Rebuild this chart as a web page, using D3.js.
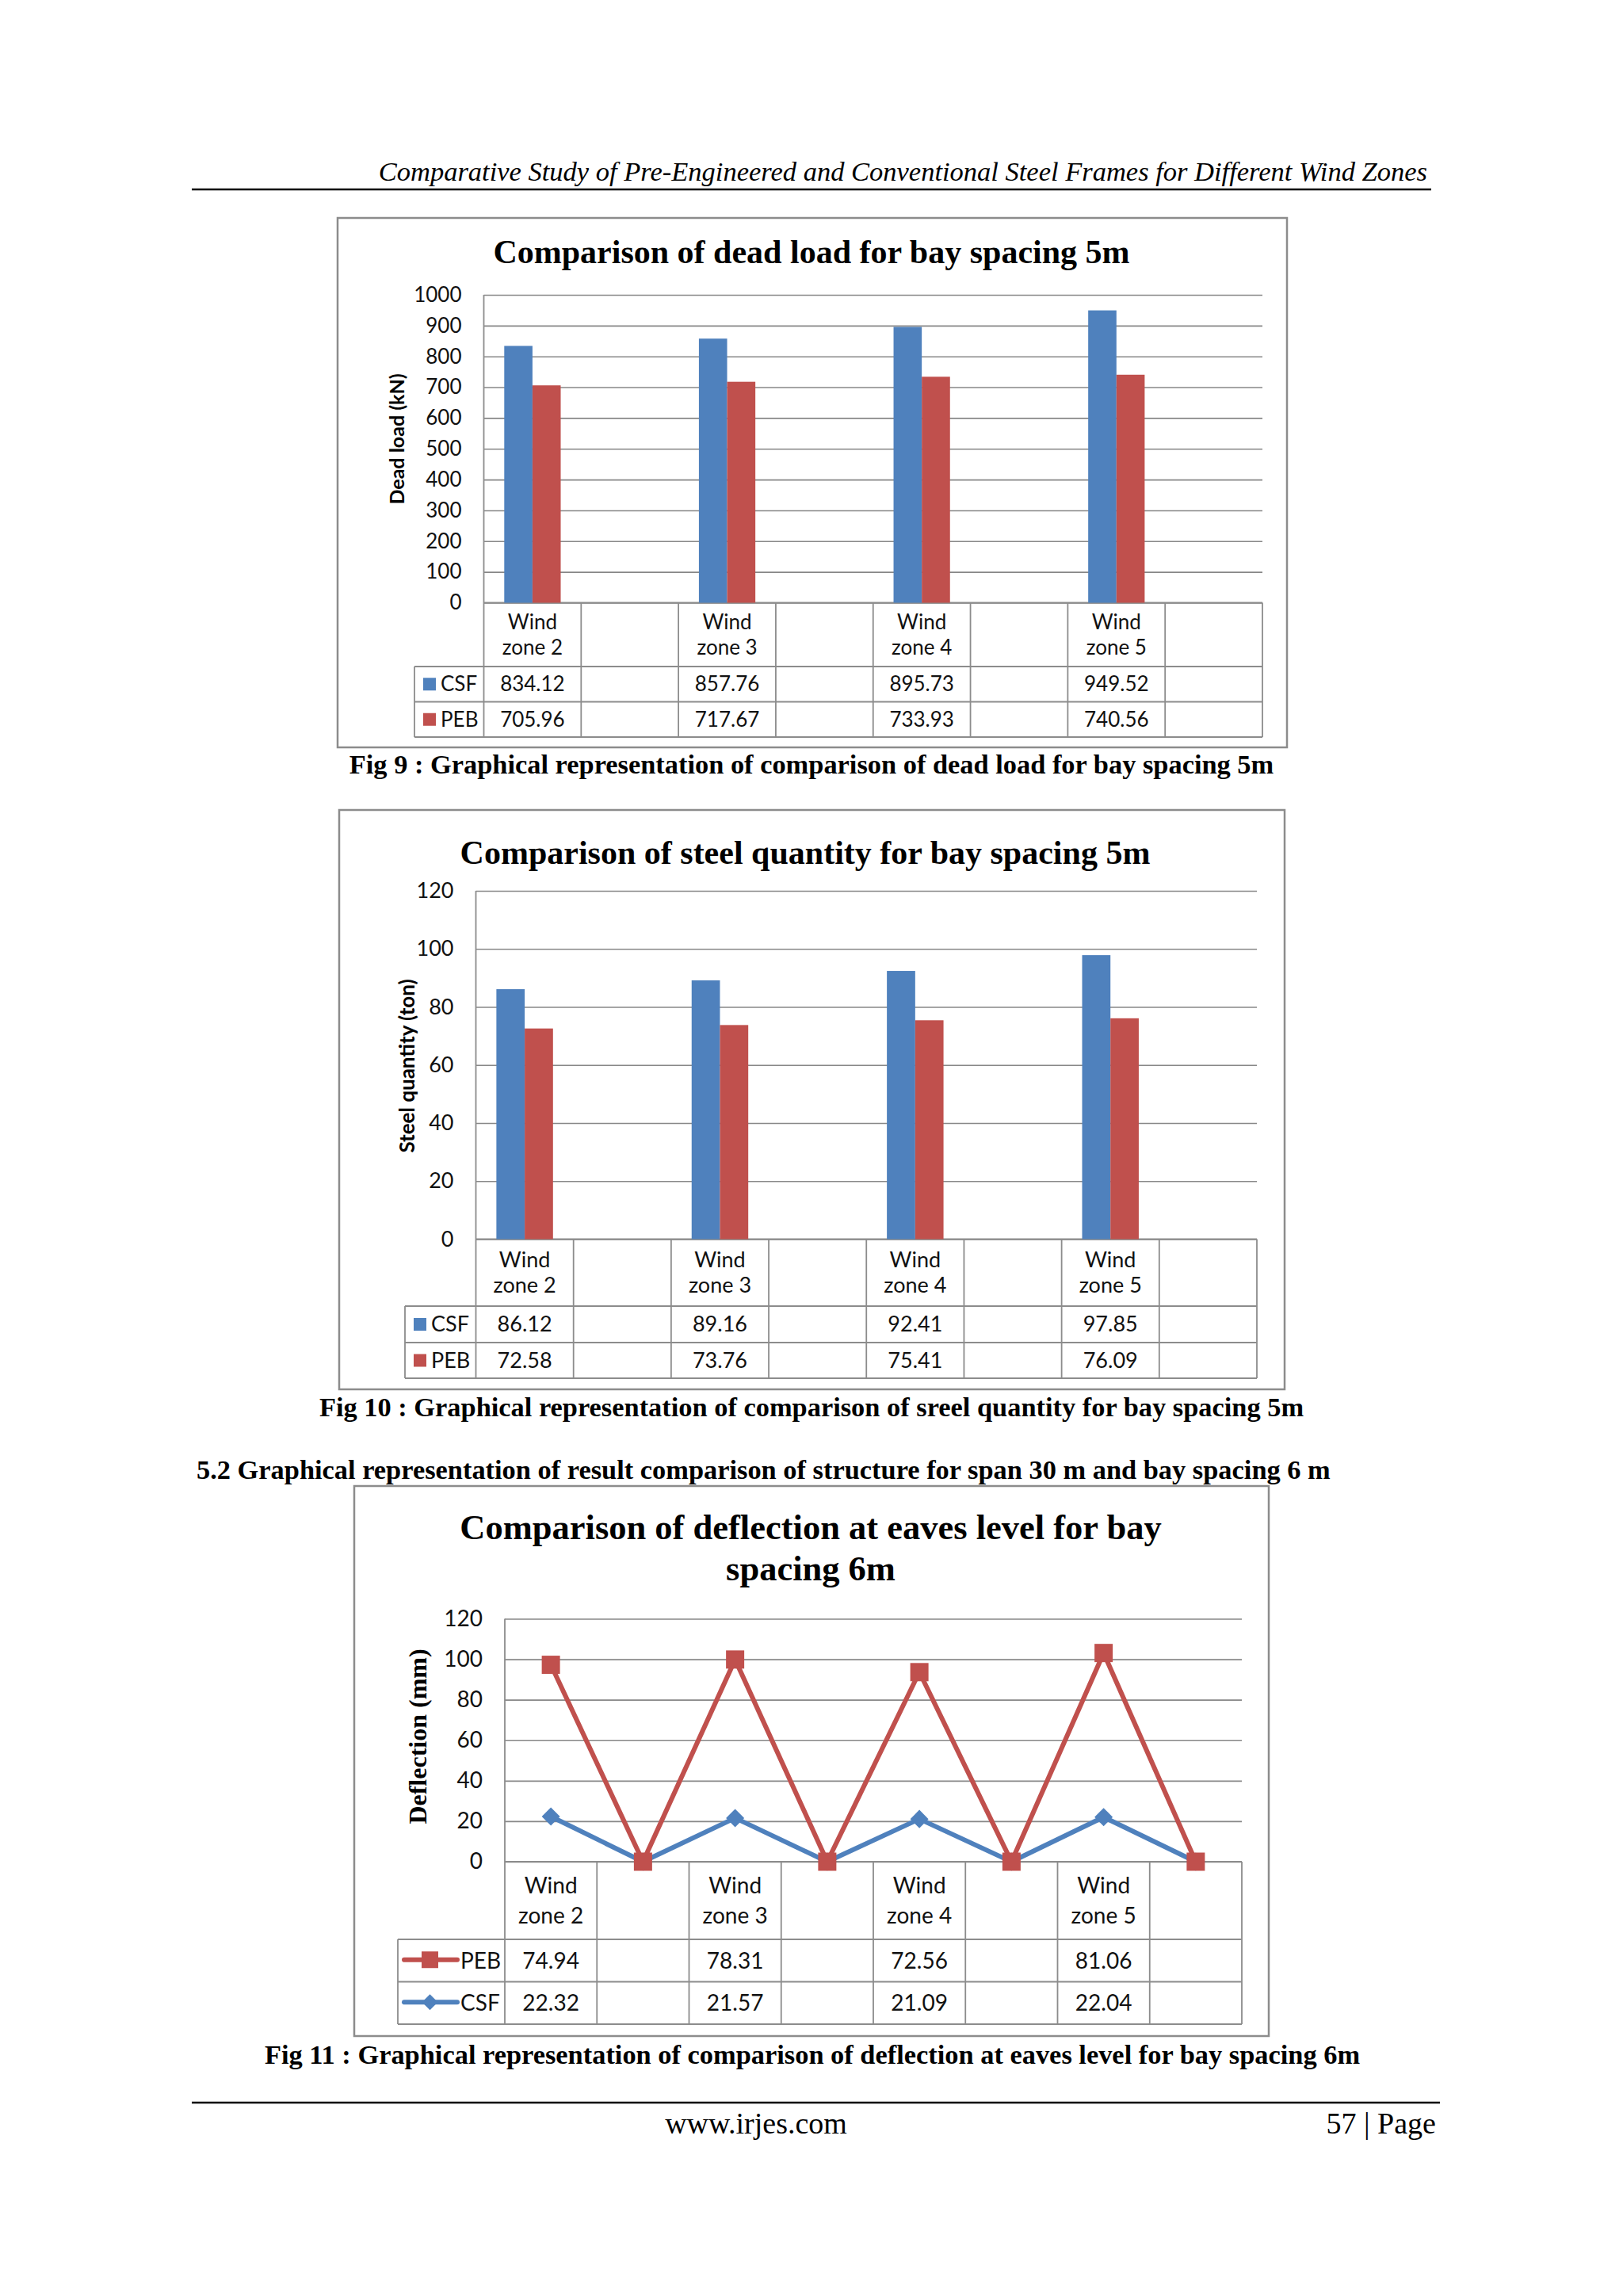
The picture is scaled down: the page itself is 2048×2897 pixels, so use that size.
<!DOCTYPE html>
<html><head><meta charset="utf-8">
<script src="https://cdn.jsdelivr.net/npm/d3@7/dist/d3.min.js"></script>
<style>html,body{margin:0;padding:0;background:#fff;} svg{display:block}</style>
</head><body>
<svg id="page" width="2048" height="2897"></svg>
<script>
// ---------- DATA ----------
const categories = ["Wind zone 2", "", "Wind zone 3", "", "Wind zone 4", "", "Wind zone 5", ""];
const deadCSF = [834.12, null, 857.76, null, 895.73, null, 949.52, null];
const deadPEB = [705.96, null, 717.67, null, 733.93, null, 740.56, null];
const deadTicks = [0, 100, 200, 300, 400, 500, 600, 700, 800, 900, 1000];
const steelCSF = [86.12, null, 89.16, null, 92.41, null, 97.85, null];
const steelPEB = [72.58, null, 73.76, null, 75.41, null, 76.09, null];
const steelTicks = [0, 20, 40, 60, 80, 100, 120];
const deflPEB = [74.94, null, 78.31, null, 72.56, null, 81.06, null];
const deflCSF = [22.32, null, 21.57, null, 21.09, null, 22.04, null];
const deflTicks = [0, 20, 40, 60, 80, 100, 120];

// ---------- STYLE ----------
const BLUE = "#4F81BD", RED = "#C0504D", GRID = "#878787", BORDER = "#8c8c8c";
const serif = "'Liberation Serif','Times New Roman',serif";
const sans = "Lato,'Open Sans',sans-serif";
const fmt = d3.format(".2f");

const svg = d3.select("#page");

function txt(g, x, y, s, o) {
  const t = g.append("text").attr("x", x).attr("y", y).text(s)
    .style("font-family", o.family || serif)
    .style("font-size", (o.size || 30) + "px")
    .style("font-weight", o.weight || "normal")
    .style("font-style", o.style || "normal")
    .attr("fill", o.fill || "#000")
    .attr("text-anchor", o.anchor || "start");
  if (o.dy) t.attr("dy", o.dy);
  return t;
}

// ---------- PAGE ----------
txt(svg, 1801, 228, "Comparative Study of Pre-Engineered and Conventional Steel Frames for Different Wind Zones",
  {size: 34.5, style: "italic", anchor: "end"});
svg.append("line").attr("x1", 242).attr("x2", 1806).attr("y1", 239).attr("y2", 239)
  .attr("stroke", "#000").attr("stroke-width", 2.5);
svg.append("line").attr("x1", 242).attr("x2", 1817).attr("y1", 2653).attr("y2", 2653)
  .attr("stroke", "#000").attr("stroke-width", 2.5);
txt(svg, 954, 2692, "www.irjes.com", {size: 38, anchor: "middle"});
txt(svg, 1812, 2692, "57 | Page", {size: 38, anchor: "end"});

const capSize = 34.4;
txt(svg, 1024, 976, "Fig 9 : Graphical representation of comparison of dead load for bay spacing 5m",
  {size: capSize, weight: "bold", anchor: "middle"});
txt(svg, 1024, 1787, "Fig 10 : Graphical representation of comparison of sreel quantity for bay spacing 5m",
  {size: capSize, weight: "bold", anchor: "middle"});
txt(svg, 248, 1866, "5.2 Graphical representation of result comparison of structure for span 30 m and bay spacing 6 m",
  {size: capSize, weight: "bold"});
txt(svg, 1025, 2604, "Fig 11 : Graphical representation of comparison of deflection at eaves level for bay spacing 6m",
  {size: capSize, weight: "bold", anchor: "middle"});

// ---------- CHART FRAME (shared) ----------
function symTransform(s, px, py) {
  return `translate(${px},${py})` + (s.diamond ? " rotate(45)" : "");
}

function frame(c) {
  const g = svg.append("g");
  const [bx0, by0, bx1, by1] = c.box;
  g.append("rect").attr("x", bx0).attr("y", by0).attr("width", bx1 - bx0).attr("height", by1 - by0)
    .attr("fill", "#fff").attr("stroke", BORDER).attr("stroke-width", 2.5);
  c.title.forEach((t, i) => txt(g, c.titleX, c.titleY[i], t, {size: c.titleSize, weight: "bold", anchor: "middle"}));

  const p = c.plot;
  const x = d3.scaleBand().domain(d3.range(categories.length)).range([p.l, p.r]);
  const y = d3.scaleLinear().domain([0, d3.max(c.ticks)]).range([p.b, p.t]);

  // gridlines + tick labels via axis
  const ax = g.append("g").attr("transform", `translate(${p.l},0)`)
    .call(d3.axisLeft(y).tickValues(c.ticks).tickSize(-(p.r - p.l)).tickPadding(28).tickFormat(d3.format("d")));
  ax.select(".domain").remove();
  ax.selectAll(".tick line").attr("stroke", GRID).attr("stroke-width", 1.6);
  ax.selectAll(".tick text").style("font-family", sans).style("font-size", c.fs + "px").attr("fill", "#111");

  // y title
  g.append("text").attr("transform", `translate(${c.yTitleX},${c.yTitleY}) rotate(-90)`)
    .attr("text-anchor", "middle").attr("dy", "0.35em").text(c.yTitle)
    .style("font-family", c.yTitleFamily || sans).style("font-weight", "bold")
    .style("font-size", c.yTitleSize + "px");

  // data table
  const rows = c.rows, tb = rows[rows.length - 1];
  const tg = g.append("g").attr("stroke", BORDER).attr("stroke-width", 1.8);
  tg.append("line").attr("x1", p.l).attr("x2", p.l).attr("y1", p.t).attr("y2", tb);
  d3.range(1, categories.length + 1).forEach(i => {
    const xx = i < categories.length ? x(i) : p.r;
    tg.append("line").attr("x1", xx).attr("x2", xx).attr("y1", p.b).attr("y2", tb);
  });
  tg.append("line").attr("x1", c.legendLeft).attr("x2", c.legendLeft).attr("y1", rows[0]).attr("y2", tb);
  tg.append("line").attr("x1", p.l).attr("x2", p.r).attr("y1", p.b).attr("y2", p.b);
  rows.forEach(r => tg.append("line").attr("x1", c.legendLeft).attr("x2", p.r).attr("y1", r).attr("y2", r));

  // category labels (two lines)
  const cy = (p.b + rows[0]) / 2;
  categories.forEach((cat, i) => {
    if (!cat) return;
    const k = cat.indexOf(" ");
    const lines = [cat.slice(0, k), cat.slice(k + 1)];
    lines.forEach((ln, j) => txt(g, x(i) + x.bandwidth() / 2, cy - c.lineGap / 2 + j * c.lineGap, ln,
      {family: sans, size: c.fs, anchor: "middle", dy: "0.35em", fill: "#111"}));
  });

  // value rows + legend keys
  c.series.forEach((s, si) => {
    const top = rows[si], bot = rows[si + 1], mid = (top + bot) / 2;
    s.values.forEach((v, i) => {
      if (v == null) return;
      txt(g, x(i) + x.bandwidth() / 2, mid, fmt(v), {family: sans, size: c.fs, anchor: "middle", dy: "0.35em", fill: "#111"});
    });
    const lg = g.append("g");
    if (c.kind === "bar") {
      lg.append("rect").attr("x", c.legendLeft + 11).attr("y", mid - 8).attr("width", 16).attr("height", 16).attr("fill", s.color);
      txt(g, c.legendLeft + 33, mid, s.name, {family: sans, size: c.fs, dy: "0.35em", fill: "#111"});
    } else {
      lg.append("line").attr("x1", c.legendLeft + 8).attr("x2", c.legendLeft + 75).attr("y1", mid - 1).attr("y2", mid - 1)
        .attr("stroke", s.color).attr("stroke-width", 6).attr("stroke-linecap", "round");
      lg.append("path").attr("d", d3.symbol().type(d3.symbolSquare).size(s.symSize)())
        .attr("transform", symTransform(s, c.legendLeft + 40.5, mid - 1))
        .attr("fill", s.color);
      txt(g, c.legendLeft + 79, mid, s.name, {family: sans, size: c.fs, dy: "0.35em", fill: "#111"});
    }
  });
  return {g, x, y};
}

function barChart(c) {
  const {g, x, y} = frame(c);
  const W = x.bandwidth();
  const x1 = d3.scaleBand().domain(c.series.map(s => s.name)).range([0.21 * W, 0.79 * W]);
  c.series.forEach(s => {
    g.append("g").selectAll("rect").data(s.values.map((v, i) => ({v, i})).filter(d => d.v != null))
      .join("rect")
      .attr("x", d => x(d.i) + x1(s.name)).attr("width", x1.bandwidth())
      .attr("y", d => y(d.v)).attr("height", d => y(0) - y(d.v))
      .attr("fill", s.color);
  });
}

function lineChart(c) {
  const {g, x, y} = frame(c);
  const rowsData = categories.map((cat, i) => {
    const o = {i};
    c.series.forEach(s => o[s.name] = s.values[i] == null ? 0 : s.values[i]);
    return o;
  });
  const stacked = d3.stack().keys(c.stackOrder)(rowsData);
  const cx = i => x(i) + x.bandwidth() / 2;
  stacked.forEach(layer => {
    const s = c.series.find(q => q.name === layer.key);
    const line = d3.line().x((d, i) => cx(i)).y(d => y(d[1]));
    g.append("path").datum(layer).attr("d", line).attr("fill", "none")
      .attr("stroke", s.color).attr("stroke-width", 6).attr("stroke-linejoin", "round");
    g.append("g").selectAll("path").data(layer).join("path")
      .attr("d", d3.symbol().type(d3.symbolSquare).size(s.plotSize)())
      .attr("transform", (d, i) => symTransform(s, cx(i), y(d[1])))
      .attr("fill", s.color);
  });
}

barChart({
  kind: "bar", box: [426, 275, 1624, 943],
  title: ["Comparison of dead load for bay spacing 5m"], titleX: 1024, titleY: [332], titleSize: 42,
  plot: {l: 610.5, r: 1593, t: 372, b: 760.5}, rows: [841, 885.5, 930], legendLeft: 523,
  ticks: deadTicks, yTitle: "Dead load (kN)", yTitleX: 501, yTitleY: 554, yTitleSize: 25,
  fs: 26, lineGap: 32,
  series: [{name: "CSF", values: deadCSF, color: BLUE}, {name: "PEB", values: deadPEB, color: RED}]
});

barChart({
  kind: "bar", box: [428, 1022, 1621, 1753],
  title: ["Comparison of steel quantity for bay spacing 5m"], titleX: 1016, titleY: [1090], titleSize: 42,
  plot: {l: 600.5, r: 1586, t: 1124, b: 1563.5}, rows: [1648, 1694, 1739], legendLeft: 511,
  ticks: steelTicks, yTitle: "Steel quantity (ton)", yTitleX: 513.5, yTitleY: 1345, yTitleSize: 26,
  fs: 27, lineGap: 32,
  series: [{name: "CSF", values: steelCSF, color: BLUE}, {name: "PEB", values: steelPEB, color: RED}]
});

lineChart({
  kind: "line", box: [447, 1875, 1601, 2569],
  title: ["Comparison of deflection at eaves level for bay", "spacing 6m"], titleX: 1023, titleY: [1942, 1994], titleSize: 44.5,
  plot: {l: 637, r: 1567, t: 2042.5, b: 2349}, rows: [2447, 2500.5, 2554], legendLeft: 502,
  ticks: deflTicks, yTitle: "Deflection (mm)", yTitleFamily: serif, yTitleX: 527, yTitleY: 2191, yTitleSize: 32,
  fs: 28, lineGap: 38,
  stackOrder: ["CSF", "PEB"],
  series: [
    {name: "PEB", values: deflPEB, color: RED, diamond: false, symSize: 441, plotSize: 529},
    {name: "CSF", values: deflCSF, color: BLUE, diamond: true, symSize: 200, plotSize: 265}
  ]
});
</script>
</body></html>
